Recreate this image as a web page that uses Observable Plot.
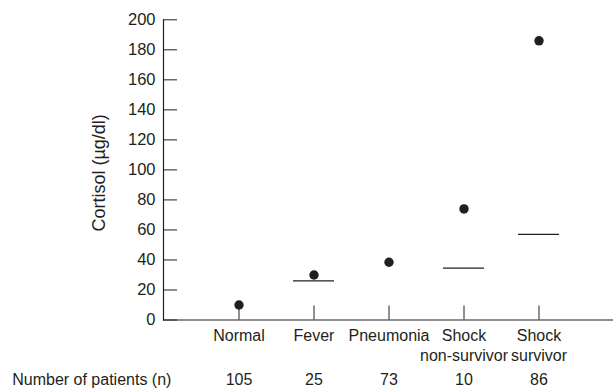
<!DOCTYPE html>
<html>
<head>
<meta charset="utf-8">
<script src="https://cdn.jsdelivr.net/npm/d3@7"></script>
<script src="https://cdn.jsdelivr.net/npm/@observablehq/plot@0.6"></script>
<style>
  body { margin: 0; background: #fff; }
  svg { font-family: "Liberation Sans", Arial, sans-serif; }
  svg g[aria-label="y-axis tick label"] { font-size: 16.5px; }
  svg g[aria-label="x-axis tick label"] { font-size: 16px; }
</style>
</head>
<body>
<div id="chart"></div>
<script>
const categories = ["Normal", "Fever", "Pneumonia", "Shock non-survivor", "Shock survivor"];
const categoryLabels = ["Normal", "Fever", "Pneumonia", "Shock\nnon-survivor", "Shock\nsurvivor"];
const dotValues = [10, 30, 38.5, 74, 186];
const lineCategories = ["Fever", "Shock non-survivor", "Shock survivor"];
const lineValues = [26, 34.5, 57];
const patientCounts = [105, 25, 73, 10, 86];
const yTicks = [0, 20, 40, 60, 80, 100, 120, 140, 160, 180, 200];
const yLabel = "Cortisol (µg/dl)";
const countLabel = "Number of patients (n)";

const ink = "#231f20";
const W = 613, H = 391;
const mL = 163, mR = 0, mT = 19.3, mB = 71.5;
const frameW = W - mL - mR, frameH = H - mT - mB;

const dots = categories.map((c, i) => ({cat: c, v: dotValues[i]}));
const lines = lineCategories.map((c, i) => ({cat: c, v: lineValues[i]}));
const counts = categories.map((c, i) => ({cat: c, n: patientCounts[i]}));
const labelOf = new Map(categories.map((c, i) => [c, categoryLabels[i]]));

const chart = Plot.plot({
  width: W, height: H,
  marginLeft: mL, marginRight: mR, marginTop: mT, marginBottom: mB,
  style: {fontSize: "16px", color: ink, background: "#fff"},
  x: {type: "band", domain: categories, paddingInner: 0.457, paddingOuter: 0.709},
  y: {domain: [0, 200]},
  marks: [
    Plot.axisY(yTicks, {tickSize: 0, tickPadding: 8, label: null, fontSize: 16.5, fill: ink}),
    Plot.tickY(yTicks, {y: d => d, insetRight: frameW - 14, stroke: ink, strokeWidth: 1}),
    Plot.axisX(categories, {tickSize: 0, tickPadding: 6.5, label: null, fontSize: 16, fill: ink,
      lineHeight: 1.25, tickFormat: d => labelOf.get(d)}),
    Plot.ruleX(categories, {x: d => d, y1: 0, y2: 0, insetTop: -14, stroke: ink, strokeWidth: 1}),
    Plot.frame({anchor: "left", stroke: ink, strokeWidth: 1.2}),
    Plot.ruleY([0], {stroke: ink, strokeWidth: 1.2}),
    Plot.tickY(lines, {x: "cat", y: "v", stroke: ink, strokeWidth: 1.3}),
    Plot.dot(dots, {x: "cat", y: "v", r: 4.7, fill: ink, stroke: "none"}),
    Plot.text(counts, {x: "cat", text: d => String(d.n), frameAnchor: "bottom", lineAnchor: "middle", dy: 60, fontSize: 16, fill: ink}),
    Plot.text([countLabel], {frameAnchor: "bottom-left", textAnchor: "start", lineAnchor: "middle", dx: 11.7 - mL, dy: 60, fontSize: 16, fill: ink}),
    Plot.text([yLabel], {frameAnchor: "left", textAnchor: "middle", lineAnchor: "middle", rotate: -90, dx: 99 - mL, dy: 3, fontSize: 18, fill: ink})
  ]
});
document.getElementById("chart").appendChild(chart);
</script>
</body>
</html>
